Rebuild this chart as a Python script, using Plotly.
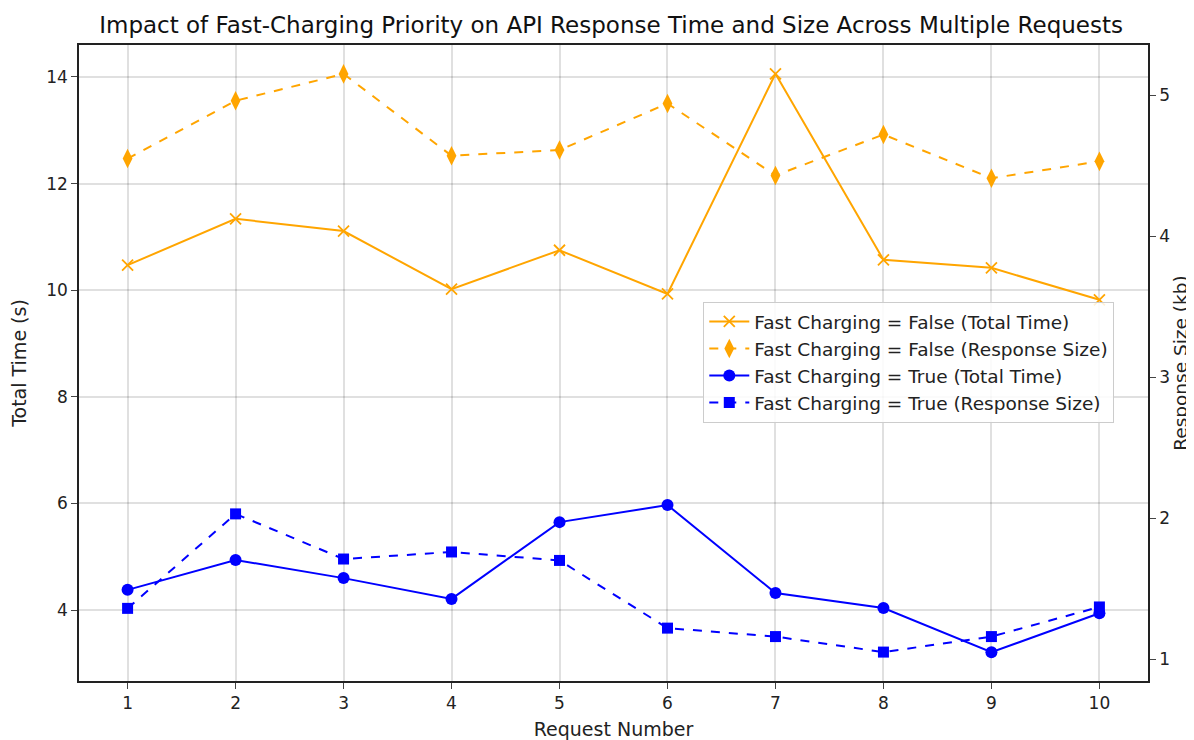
import plotly.graph_objects as go

requests = [1, 2, 3, 4, 5, 6, 7, 8, 9, 10]
false_total_time = [10.47, 11.34, 11.11, 10.02, 10.75, 9.93, 14.06, 10.57, 10.42, 9.82]
false_response_size = [4.55, 4.96, 5.15, 4.57, 4.61, 4.94, 4.43, 4.72, 4.41, 4.53]
true_total_time = [4.38, 4.94, 4.60, 4.21, 5.65, 5.97, 4.32, 4.04, 3.21, 3.94]
true_response_size = [1.36, 2.03, 1.71, 1.76, 1.70, 1.22, 1.16, 1.05, 1.16, 1.37]

FONT = "DejaVu Sans"

fig = go.Figure()
fig.add_trace(go.Scatter(
    x=requests, y=false_total_time, mode="lines+markers",
    name="Fast Charging = False (Total Time)",
    line=dict(color="orange", width=2),
    marker=dict(symbol="x-thin", size=11, line=dict(color="orange", width=1.8)),
    yaxis="y"))
fig.add_trace(go.Scatter(
    x=requests, y=false_response_size, mode="lines+markers",
    name="Fast Charging = False (Response Size)",
    line=dict(color="orange", width=2, dash="dash"),
    marker=dict(symbol="diamond-tall", size=14, color="orange"),
    yaxis="y2"))
fig.add_trace(go.Scatter(
    x=requests, y=true_total_time, mode="lines+markers",
    name="Fast Charging = True (Total Time)",
    line=dict(color="blue", width=2),
    marker=dict(symbol="circle", size=12, color="blue"),
    yaxis="y"))
fig.add_trace(go.Scatter(
    x=requests, y=true_response_size, mode="lines+markers",
    name="Fast Charging = True (Response Size)",
    line=dict(color="blue", width=2, dash="dash"),
    marker=dict(symbol="square", size=11, color="blue"),
    yaxis="y2"))

fig.update_layout(
    width=1186, height=732,
    margin=dict(l=71, r=46, t=37, b=59),
    paper_bgcolor="white", plot_bgcolor="white",
    font=dict(family=FONT, size=17, color="#222"),
    title=dict(text="Impact of Fast-Charging Priority on API Response Time and Size Across Multiple Requests",
               x=0.5085, xanchor="center", y=0.977, yanchor="middle", font=dict(size=23, color="#111")),
    xaxis=dict(
        title=dict(text="Request Number", standoff=12, font=dict(size=19)),
        range=[0.55, 10.45], tickvals=requests, ticks="outside", ticklen=6,
        showline=True, linecolor="#222", linewidth=1.5, mirror=True, automargin=False,
        showgrid=True, gridcolor="rgba(0,0,0,0.12)", gridwidth=1.5, zeroline=False),
    yaxis=dict(
        title=dict(text="Total Time (s)", standoff=15, font=dict(size=19)),
        range=[2.67, 14.6], tickvals=[4, 6, 8, 10, 12, 14], ticks="outside", ticklen=6,
        showline=True, linecolor="#222", linewidth=1.5, automargin=False,
        showgrid=True, gridcolor="rgba(0,0,0,0.12)", gridwidth=1.5, zeroline=False),
    yaxis2=dict(
        title=dict(text="Response Size (kb)", standoff=3, font=dict(size=18.5)),
        range=[0.845, 5.355], tickvals=[1, 2, 3, 4, 5], ticks="outside", ticklen=6,
        overlaying="y", side="right", automargin=False,
        showline=True, linecolor="#222", linewidth=1.5,
        showgrid=False, zeroline=False),
    legend=dict(
        x=0.584, y=0.596, xanchor="left", yanchor="top",
        bgcolor="rgba(255,255,255,0.85)", bordercolor="#cccccc", borderwidth=1,
        font=dict(size=18.5, color="#222"), tracegroupgap=2, itemwidth=40),
    showlegend=True,
)

fig.write_html("out.html")
